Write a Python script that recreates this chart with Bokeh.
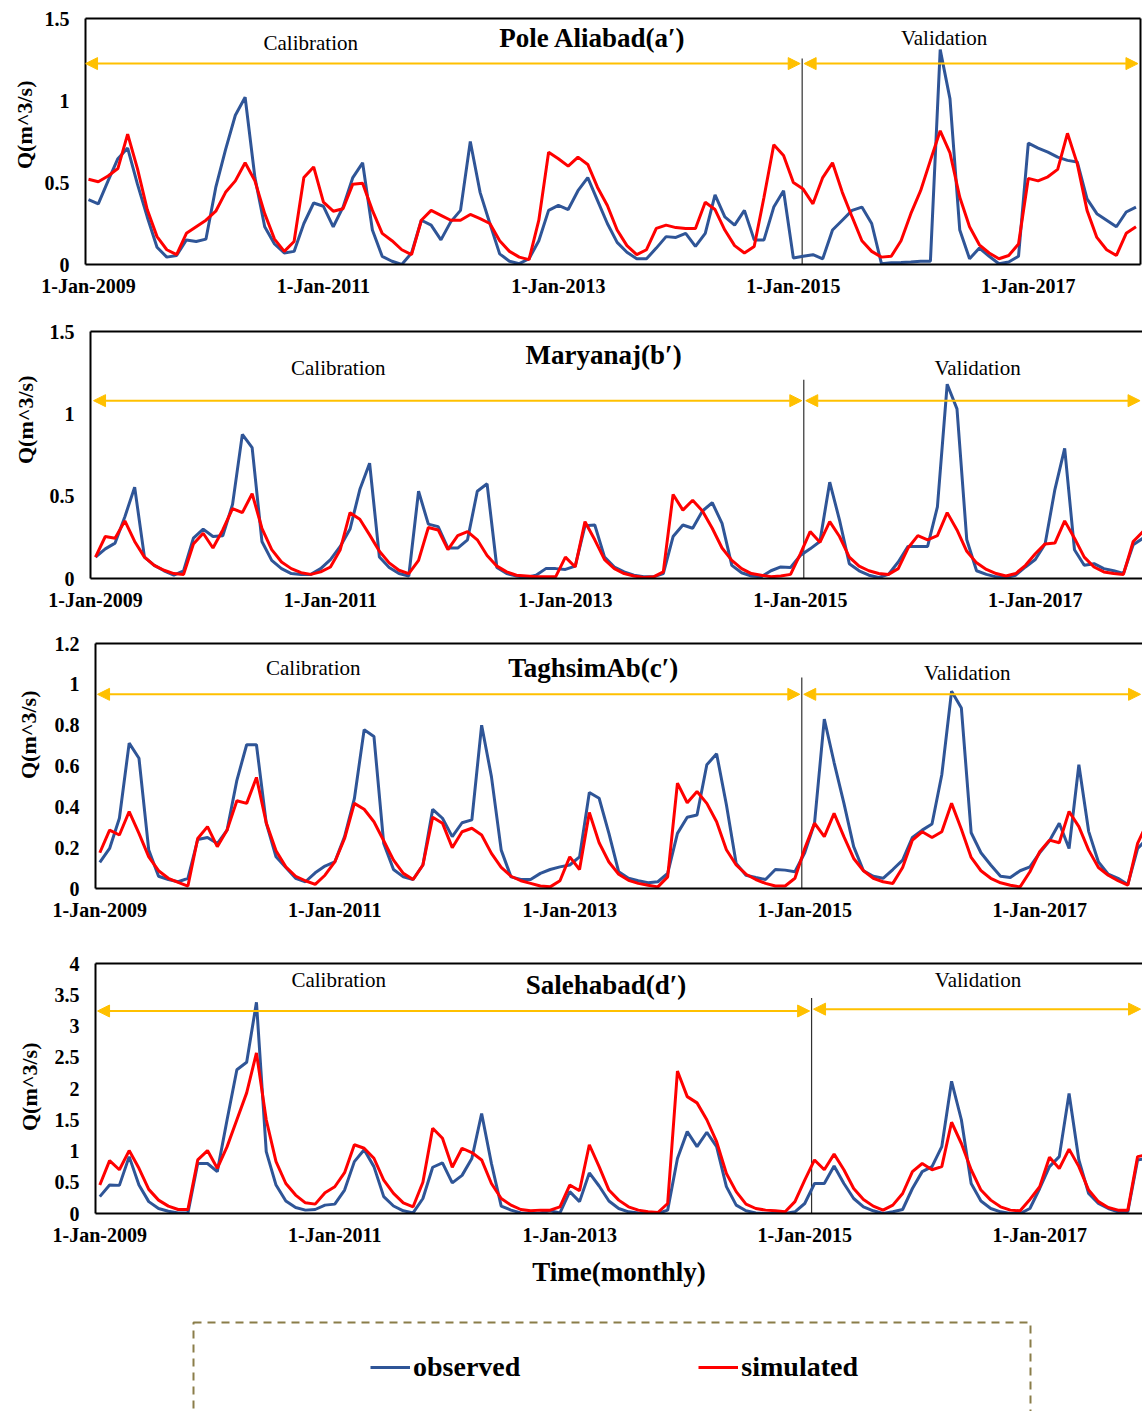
import numpy as np
from bokeh.plotting import figure
from bokeh.layouts import column, row
from bokeh.models import (Range1d, LinearAxis, FixedTicker, NumeralTickFormatter,
                          Arrow, NormalHead, Legend, LegendItem, Title)
from bokeh.core.properties import value
from bokeh.embed import file_html
from bokeh.resources import INLINE

FONT = "Liberation Serif"
BLUE = "#2F5597"
RED = "#FF0000"
GOLD = "#FFC000"

# ---------------- data ----------------
month_index = list(range(108))          # Jan-2009 ... Dec-2017
tick_months = [0, 24, 48, 72, 96]
tick_labels = ["1-Jan-2009", "1-Jan-2011", "1-Jan-2013", "1-Jan-2015", "1-Jan-2017"]

titles = ["Pole Aliabad(a\u2032)", "Maryanaj(b\u2032)", "TaghsimAb(c\u2032)", "Salehabad(d\u2032)"]
y_title = "Q(m^3/s)"
x_title = "Time(monthly)"
y_ticks_a = [0, 0.5, 1, 1.5]
y_ticks_b = [0, 0.5, 1, 1.5]
y_ticks_c = [0, 0.2, 0.4, 0.6, 0.8, 1.0, 1.2]
y_ticks_d = [0, 0.5, 1, 1.5, 2, 2.5, 3, 3.5, 4]

obs_a = [0.395, 0.37, 0.51, 0.645, 0.71, 0.49, 0.29, 0.105, 0.045, 0.055,
         0.15, 0.14, 0.155, 0.47, 0.70, 0.91, 1.02, 0.53, 0.23, 0.125,
         0.07, 0.08, 0.25, 0.375, 0.355, 0.23, 0.35, 0.53, 0.62, 0.21,
         0.05, 0.02, 0.0, 0.07, 0.27, 0.24, 0.15, 0.26, 0.33, 0.75,
         0.44, 0.25, 0.065, 0.02, 0.005, 0.035, 0.145, 0.33, 0.36, 0.335,
         0.45, 0.53, 0.39, 0.25, 0.135, 0.075, 0.035, 0.035, 0.10, 0.17,
         0.165, 0.19, 0.11, 0.19, 0.425, 0.29, 0.24, 0.33, 0.15, 0.15,
         0.35, 0.45, 0.04, 0.05, 0.06, 0.035, 0.21, 0.27, 0.33, 0.35,
         0.25, 0.005, 0.01, 0.012, 0.015, 0.02, 0.02, 1.31, 1.01, 0.21,
         0.035, 0.10, 0.05, 0.005, 0.015, 0.05, 0.74, 0.71, 0.685, 0.655,
         0.635, 0.625, 0.40, 0.31, 0.27, 0.23, 0.32, 0.35]
sim_a = [0.52, 0.505, 0.54, 0.585, 0.795, 0.585, 0.335, 0.17, 0.09, 0.06,
         0.19, 0.23, 0.27, 0.325, 0.44, 0.51, 0.62, 0.51, 0.31, 0.155,
         0.08, 0.14, 0.53, 0.595, 0.38, 0.325, 0.34, 0.49, 0.495, 0.33,
         0.19, 0.145, 0.09, 0.06, 0.27, 0.33, 0.30, 0.27, 0.27, 0.305,
         0.28, 0.25, 0.145, 0.08, 0.045, 0.03, 0.27, 0.685, 0.645, 0.60,
         0.655, 0.61, 0.47, 0.36, 0.21, 0.115, 0.06, 0.09, 0.22, 0.24,
         0.225, 0.22, 0.22, 0.38, 0.335, 0.21, 0.115, 0.07, 0.11, 0.41,
         0.73, 0.665, 0.50, 0.46, 0.37, 0.53, 0.62, 0.44, 0.29, 0.145,
         0.08, 0.045, 0.05, 0.145, 0.31, 0.45, 0.635, 0.815, 0.68, 0.41,
         0.23, 0.12, 0.07, 0.035, 0.055, 0.125, 0.525, 0.51, 0.535, 0.58,
         0.80, 0.615, 0.33, 0.165, 0.09, 0.055, 0.19, 0.23]

obs_b = [0.13, 0.18, 0.215, 0.375, 0.555, 0.13, 0.08, 0.047, 0.02, 0.047,
         0.245, 0.30, 0.255, 0.26, 0.45, 0.875, 0.795, 0.225, 0.11, 0.06,
         0.03, 0.025, 0.025, 0.06, 0.115, 0.195, 0.30, 0.54, 0.70, 0.13,
         0.067, 0.03, 0.015, 0.53, 0.33, 0.315, 0.185, 0.185, 0.235, 0.53,
         0.575, 0.067, 0.03, 0.015, 0.006, 0.02, 0.06, 0.06, 0.055, 0.075,
         0.32, 0.325, 0.13, 0.07, 0.04, 0.02, 0.01, 0.01, 0.03, 0.255,
         0.325, 0.305, 0.41, 0.46, 0.335, 0.08, 0.035, 0.015, 0.01, 0.047,
         0.07, 0.067, 0.14, 0.18, 0.225, 0.585, 0.355, 0.09, 0.047, 0.02,
         0.006, 0.025, 0.10, 0.195, 0.195, 0.195, 0.435, 1.18, 1.03, 0.235,
         0.047, 0.025, 0.01, 0.006, 0.02, 0.07, 0.115, 0.21, 0.54, 0.79,
         0.175, 0.08, 0.09, 0.06, 0.047, 0.03, 0.205, 0.245]
sim_b = [0.13, 0.255, 0.245, 0.35, 0.225, 0.13, 0.08, 0.05, 0.03, 0.025,
         0.21, 0.275, 0.185, 0.295, 0.425, 0.40, 0.515, 0.305, 0.175, 0.10,
         0.06, 0.035, 0.025, 0.04, 0.07, 0.175, 0.40, 0.36, 0.265, 0.165,
         0.095, 0.05, 0.03, 0.11, 0.31, 0.295, 0.175, 0.26, 0.285, 0.235,
         0.14, 0.075, 0.04, 0.02, 0.015, 0.01, 0.01, 0.01, 0.13, 0.07,
         0.345, 0.235, 0.115, 0.06, 0.03, 0.015, 0.006, 0.01, 0.04, 0.51,
         0.415, 0.475, 0.41, 0.305, 0.185, 0.11, 0.06, 0.03, 0.02, 0.01,
         0.015, 0.025, 0.15, 0.285, 0.22, 0.345, 0.255, 0.13, 0.075, 0.047,
         0.03, 0.025, 0.06, 0.185, 0.26, 0.235, 0.26, 0.40, 0.295, 0.165,
         0.095, 0.055, 0.03, 0.015, 0.03, 0.08, 0.15, 0.21, 0.215, 0.35,
         0.245, 0.13, 0.07, 0.04, 0.03, 0.025, 0.225, 0.285]

obs_c = [0.128, 0.196, 0.344, 0.712, 0.638, 0.188, 0.06, 0.044, 0.033, 0.05,
         0.24, 0.25, 0.22, 0.286, 0.53, 0.704, 0.704, 0.32, 0.155, 0.103,
         0.05, 0.033, 0.077, 0.11, 0.13, 0.254, 0.44, 0.778, 0.745, 0.22,
         0.093, 0.057, 0.044, 0.115, 0.388, 0.344, 0.254, 0.322, 0.336, 0.80,
         0.548, 0.188, 0.057, 0.044, 0.044, 0.074, 0.093, 0.106, 0.115, 0.155,
         0.47, 0.442, 0.27, 0.082, 0.05, 0.038, 0.028, 0.033, 0.074, 0.27,
         0.349, 0.36, 0.606, 0.66, 0.41, 0.123, 0.065, 0.054, 0.044, 0.093,
         0.09, 0.082, 0.175, 0.32, 0.83, 0.617, 0.418, 0.205, 0.087, 0.06,
         0.05, 0.093, 0.139, 0.25, 0.286, 0.316, 0.557, 0.966, 0.884, 0.273,
         0.175, 0.115, 0.06, 0.054, 0.087, 0.106, 0.175, 0.234, 0.32, 0.196,
         0.606, 0.28, 0.13, 0.07, 0.05, 0.02, 0.196, 0.245]
sim_c = [0.175, 0.286, 0.262, 0.377, 0.27, 0.155, 0.087, 0.05, 0.03, 0.012,
         0.245, 0.303, 0.205, 0.286, 0.43, 0.417, 0.544, 0.322, 0.185, 0.106,
         0.06, 0.038, 0.02, 0.065, 0.13, 0.245, 0.417, 0.388, 0.327, 0.234,
         0.139, 0.074, 0.044, 0.115, 0.349, 0.32, 0.20, 0.278, 0.295, 0.262,
         0.172, 0.103, 0.06, 0.038, 0.025, 0.012, 0.008, 0.038, 0.155, 0.093,
         0.372, 0.224, 0.13, 0.07, 0.04, 0.025, 0.016, 0.008, 0.057, 0.516,
         0.42, 0.475, 0.417, 0.327, 0.19, 0.115, 0.07, 0.044, 0.025, 0.012,
         0.012, 0.05, 0.196, 0.32, 0.254, 0.368, 0.254, 0.147, 0.087, 0.05,
         0.033, 0.025, 0.103, 0.237, 0.278, 0.25, 0.278, 0.417, 0.29, 0.152,
         0.087, 0.05, 0.028, 0.016, 0.008, 0.082, 0.18, 0.237, 0.224, 0.377,
         0.303, 0.188, 0.103, 0.065, 0.038, 0.016, 0.221, 0.322]

obs_d = [0.27, 0.455, 0.45, 0.91, 0.455, 0.19, 0.08, 0.037, 0.01, 0.01,
         0.80, 0.80, 0.67, 1.50, 2.30, 2.42, 3.38, 0.99, 0.455, 0.20,
         0.096, 0.054, 0.064, 0.134, 0.15, 0.375, 0.83, 1.02, 0.75, 0.27,
         0.12, 0.043, 0.01, 0.24, 0.74, 0.81, 0.49, 0.61, 0.88, 1.60,
         0.80, 0.118, 0.054, 0.01, 0.0, 0.01, 0.043, 0.01, 0.35, 0.19,
         0.65, 0.44, 0.20, 0.08, 0.027, 0.01, 0.0, 0.0, 0.054, 0.88,
         1.31, 1.07, 1.30, 1.07, 0.43, 0.134, 0.043, 0.01, 0.0, 0.0,
         0.0, 0.027, 0.16, 0.48, 0.48, 0.76, 0.48, 0.24, 0.107, 0.043,
         0.0, 0.027, 0.064, 0.40, 0.67, 0.75, 1.07, 2.115, 1.50, 0.48,
         0.20, 0.08, 0.027, 0.0, 0.0, 0.08, 0.40, 0.75, 0.91, 1.92,
         0.857, 0.32, 0.16, 0.08, 0.027, 0.027, 0.857, 0.88]
sim_d = [0.455, 0.846, 0.70, 1.007, 0.723, 0.386, 0.214, 0.118, 0.064, 0.064,
         0.857, 1.007, 0.723, 1.07, 1.50, 1.93, 2.57, 1.50, 0.83, 0.48,
         0.295, 0.171, 0.15, 0.332, 0.428, 0.653, 1.10, 1.044, 0.884, 0.535,
         0.321, 0.171, 0.107, 0.50, 1.365, 1.205, 0.74, 1.044, 0.975, 0.857,
         0.48, 0.24, 0.134, 0.064, 0.043, 0.054, 0.054, 0.107, 0.455, 0.364,
         1.10, 0.75, 0.375, 0.214, 0.107, 0.054, 0.027, 0.016, 0.16, 2.28,
         1.87, 1.77, 1.50, 1.15, 0.64, 0.35, 0.15, 0.08, 0.054, 0.043,
         0.027, 0.19, 0.535, 0.857, 0.70, 0.95, 0.70, 0.40, 0.225, 0.118,
         0.054, 0.134, 0.32, 0.67, 0.80, 0.70, 0.75, 1.46, 1.12, 0.70,
         0.375, 0.214, 0.107, 0.054, 0.043, 0.225, 0.428, 0.90, 0.72, 1.03,
         0.75, 0.375, 0.19, 0.096, 0.054, 0.054, 0.91, 0.94]


def style_axis(ax, size="20px"):
    ax.axis_line_width = 2
    ax.axis_line_color = "black"
    ax.major_tick_line_color = None
    ax.minor_tick_line_color = None
    ax.major_tick_out = 0
    ax.major_tick_in = 0
    ax.minor_tick_out = 0
    ax.minor_tick_in = 0
    ax.major_label_text_font = FONT
    ax.major_label_text_font_style = "bold"
    ax.major_label_text_font_size = size
    ax.major_label_text_color = "black"


def make_panel(obs, sim, title, yticks, cfg, right_border=False, xlabel=None):
    p = figure(width=1142, height=cfg["h"],
               x_range=Range1d(cfg["x0"], cfg["x1"]),
               y_range=Range1d(0, yticks[-1]),
               output_backend="svg", toolbar_location=None,
               min_border_left=cfg["mbl"], min_border_right=cfg["mbr"],
               min_border_top=cfg["mbt"], min_border_bottom=cfg["mbb"])
    p.outline_line_color = None
    p.grid.visible = False
    p.background_fill_color = "white"
    p.border_fill_color = "white"

    xa = p.xaxis[0]
    style_axis(xa)
    xa.ticker = FixedTicker(ticks=tick_months)
    xa.major_label_overrides = {m: lab for m, lab in zip(tick_months, tick_labels)}
    xa.major_label_standoff = 10
    if xlabel:
        xa.axis_label = xlabel
        xa.axis_label_text_font = FONT
        xa.axis_label_text_font_style = "bold"
        xa.axis_label_text_font_size = "27px"
        xa.axis_label_text_color = "black"
        xa.axis_label_standoff = 8

    ya = p.yaxis[0]
    style_axis(ya)
    ya.ticker = FixedTicker(ticks=yticks)
    ya.formatter = NumeralTickFormatter(format="0.[0]")
    ya.major_label_standoff = 16

    # y-axis title, anchored at the top end of the axis as in the original
    p.add_layout(Title(text=y_title, align="right", offset=cfg["yoff"],
                       standoff=cfg["als"], text_font=FONT,
                       text_font_style="bold", text_font_size="22px",
                       text_color="black"), "left")

    top = LinearAxis(ticker=FixedTicker(ticks=[]), axis_line_width=2,
                     major_tick_out=0, major_tick_in=0, minor_tick_out=0,
                     minor_tick_in=0, major_label_standoff=0)
    p.add_layout(top, "above")
    if right_border:
        rt = LinearAxis(ticker=FixedTicker(ticks=[]), axis_line_width=2,
                        major_tick_out=0, major_tick_in=0, minor_tick_out=0,
                        minor_tick_in=0, major_label_standoff=0)
        p.add_layout(rt, "right")

    # separation line and period arrows
    p.segment(x0=[cfg["split"]], y0=[0], x1=[cfg["split"]], y1=[cfg["split_top"]],
              line_color="#303030", line_width=1.2)
    for (xs, xe, ya_) in cfg["arrows"]:
        p.add_layout(Arrow(start=NormalHead(size=12, fill_color=GOLD, line_color=GOLD),
                           end=NormalHead(size=12, fill_color=GOLD, line_color=GOLD),
                           x_start=xs, y_start=ya_, x_end=xe, y_end=ya_,
                           line_color=GOLD, line_width=2))

    p.line(month_index, obs, line_color=BLUE, line_width=3)
    p.line(month_index, sim, line_color=RED, line_width=3)

    p.text(x=[cfg["cal"][0]], y=[cfg["cal"][1]], text=["Calibration"],
           text_font=value(FONT), text_font_size="21px", text_align="center",
           text_baseline="middle", text_color="black")
    p.text(x=[cfg["val"][0]], y=[cfg["val"][1]], text=["Validation"],
           text_font=value(FONT), text_font_size="21px", text_align="center",
           text_baseline="middle", text_color="black")
    p.text(x=[cfg["tit"][0]], y=[cfg["tit"][1]], text=[title],
           text_font=value(FONT), text_font_size="27px", text_font_style="bold",
           text_align="center", text_baseline="middle", text_color="black")
    return p


cfg_a = dict(h=310, x0=-0.306, x1=107.46, mbl=85, mbr=2, mbt=18, mbb=46, als=9, yoff=62,
             split=72.9, split_top=1.256,
             arrows=[(-0.3, 72.7, 1.225), (73.1, 107.2, 1.225)],
             cal=(22.7, 1.35), val=(87.4, 1.38), tit=(51.5, 1.38))
cfg_b = dict(h=315, x0=-0.511, x1=106.95, mbl=90, mbr=0, mbt=21, mbb=47, als=18, yoff=44,
             split=72.35, split_top=1.207,
             arrows=[(-0.2, 72.15, 1.08), (72.55, 106.7, 1.08)],
             cal=(24.8, 1.28), val=(90.1, 1.28), tit=(51.9, 1.36))
cfg_c = dict(h=315, x0=-0.44, x1=106.5, mbl=95, mbr=0, mbt=18, mbb=52, als=22, yoff=47,
             split=71.7, split_top=1.034,
             arrows=[(-0.23, 71.5, 0.951), (71.9, 106.3, 0.951)],
             cal=(21.8, 1.078), val=(88.6, 1.054), tit=(50.4, 1.078))
cfg_d = dict(h=350, x0=-0.44, x1=106.5, mbl=95, mbr=0, mbt=23, mbb=77, als=20, yoff=79,
             split=72.7, split_top=3.45,
             arrows=[(-0.23, 72.5, 3.24), (72.9, 106.3, 3.27)],
             cal=(24.4, 3.74), val=(89.7, 3.74), tit=(51.7, 3.66))

pa = make_panel(obs_a, sim_a, titles[0], y_ticks_a, cfg_a, right_border=True)
pb = make_panel(obs_b, sim_b, titles[1], y_ticks_b, cfg_b)
pc = make_panel(obs_c, sim_c, titles[2], y_ticks_c, cfg_c)
pd = make_panel(obs_d, sim_d, titles[3], y_ticks_d, cfg_d, xlabel=x_title)

# legend panel (page coordinates: x = page x, y = 1411 - page y)
lg = figure(width=1142, height=121, x_range=Range1d(0, 1142), y_range=Range1d(0, 121),
            min_border=0, min_border_left=0, min_border_right=0, min_border_top=0,
            min_border_bottom=0, output_backend="svg", toolbar_location=None,
            x_axis_type=None, y_axis_type=None)
lg.outline_line_color = None
lg.grid.visible = False
lg.quad(left=[193], right=[1030], top=[89], bottom=[-20], fill_alpha=0,
        line_color="#8A7D49", line_width=2, line_dash="8 6")
# off-canvas proxies that only feed the legend swatches
r_obs = lg.line(x=[-50, -40], y=[-50, -50], line_color=BLUE, line_width=3)
r_sim = lg.line(x=[-50, -40], y=[-50, -50], line_color=RED, line_width=3)
legend = Legend(items=[LegendItem(label="observed", renderers=[r_obs]),
                       LegendItem(label="simulated", renderers=[r_sim])],
                orientation="horizontal", location=(370, 28), spacing=178,
                glyph_width=40, glyph_height=30, label_standoff=3, padding=0,
                margin=0, border_line_color=None, background_fill_alpha=0,
                label_text_font=FONT, label_text_font_style="bold",
                label_text_font_size="28px", label_text_color="black")
lg.add_layout(legend)

layout = column(row(pa), row(pb), row(pc), row(pd), row(lg), spacing=0)
open("out.html", "w").write(file_html(layout, INLINE))
